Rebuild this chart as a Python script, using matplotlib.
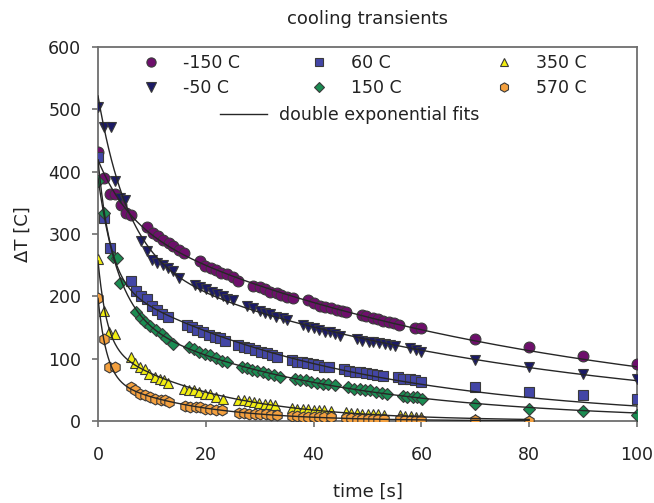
import numpy as np
import matplotlib
matplotlib.use("Agg")
import matplotlib.pyplot as plt
from matplotlib.lines import Line2D

# ---------------- data ----------------
labels = ["-150 C", "-50 C", "60 C", "150 C", "350 C", "570 C"]

t_m150 = [0, 1.2, 2.3, 3.2, 4.3, 5.2, 6.1,
          9.0, 10.2, 11.2, 12.1, 13.2, 14.0, 15.1, 16.0,
          18.9, 19.9, 20.9, 21.9, 22.9, 24.0, 25.0, 26.0,
          28.8, 30.0, 31.0, 32.0, 33.2, 34.0, 35.1, 36.1,
          39.0, 40.0, 41.2, 42.1, 43.2, 44.3, 45.2, 46.0,
          48.9, 49.8, 51.0, 51.9, 52.9, 53.9, 55.0, 55.9,
          58.8, 60.0, 70, 80, 90, 100]
y_m150 = [432, 390, 364, 364, 347, 333, 330,
          312, 301, 296, 290, 285, 280, 275, 269,
          256, 249, 245, 242, 238, 236, 231, 225,
          217, 215, 211, 207, 205, 202, 199, 198,
          194, 189, 185, 183, 181, 178, 177, 175,
          170, 168, 166, 163, 161, 159, 157, 154,
          150, 150, 131, 118, 104, 91]

t_m50 = [0, 1.2, 2.5, 3.1, 4.1, 5.1,
         8.0, 9.0, 10.1, 11.0, 12.0, 13.0, 14.0, 15.1,
         18.0, 18.9, 20.0, 21.1, 22.1, 23.1, 24.0, 25.1,
         27.7, 28.8, 30.0, 31.0, 32.0, 33.1, 34.3, 35.0,
         38.1, 39.0, 40.0, 41.0, 42.1, 43.0, 44.0, 44.9,
         48.0, 49.0, 50.2, 51.0, 52.2, 53.2, 54.2, 55.1,
         57.9, 59.0, 60.0, 70, 80, 90, 100]
y_m50 = [503, 472, 472, 385, 357, 355,
         288, 273, 259, 254, 250, 245, 240, 230,
         218, 215, 211, 207, 204, 200, 196, 194,
         185, 181, 177, 174, 172, 167, 165, 162,
         154, 151, 149, 146, 143, 142, 140, 136,
         131, 129, 127, 126, 125, 124, 122, 121,
         117, 114, 111, 98, 86, 76, 68]

t_60 = [0, 1.2, 2.3,
        6.1, 7.1, 8.0, 9.0, 10.0, 11.0, 11.8, 13.0,
        16.5, 17.4, 18.3, 19.5, 20.6, 21.7, 22.6, 23.5,
        26.0, 27.0, 28.1, 29.1, 30.2, 31.3, 32.2, 33.2,
        36.0, 36.9, 37.8, 38.8, 39.8, 40.9, 41.9, 42.9,
        45.6, 46.6, 47.7, 48.7, 49.8, 50.8, 51.8, 52.9,
        55.7, 56.6, 57.8, 58.8, 60.0, 70, 80, 90, 100]
y_60 = [424, 326, 277,
        224, 209, 200, 195, 185, 178, 172, 167,
        154, 151, 146, 143, 138, 134, 133, 129,
        122, 119, 117, 114, 111, 109, 106, 103,
        98, 95, 94, 93, 91, 90, 87, 86,
        83, 81, 79, 78, 77, 75, 74, 72,
        70, 67, 67, 66, 63, 55, 47, 41, 35]

t_150 = [0, 1.2, 2.7, 3.5, 4.1,
         7.1, 7.9, 8.7, 9.6, 10.8, 11.8, 12.6, 14.0,
         16.8, 17.8, 18.8, 19.8, 20.8, 21.9, 23.0, 23.9,
         26.7, 27.6, 28.6, 29.5, 30.6, 31.5, 32.6, 33.8,
         36.5, 37.5, 38.6, 39.6, 40.7, 41.7, 42.7, 44.0,
         46.4, 47.5, 48.6, 49.5, 50.5, 51.6, 52.6, 53.7,
         56.5, 57.4, 58.4, 59.2, 60.2, 70, 80, 90, 100]
y_150 = [385, 333, 263, 261, 221,
         175, 165, 159, 152, 146, 140, 133, 124,
         118, 115, 111, 108, 106, 101, 97, 95,
         87, 85, 82, 81, 78, 75, 74, 70,
         67, 66, 65, 63, 61, 60, 59, 58,
         54, 52, 51, 50, 49, 47, 45, 44,
         40, 39, 39, 38, 36, 27, 20, 16, 10]

t_350 = [0, 1.1, 2.1, 3.2,
         6.2, 6.9, 7.8, 8.7, 9.5, 10.6, 11.5, 12.2, 13.0,
         15.9, 16.8, 17.8, 18.8, 19.8, 20.8, 21.9, 23.1,
         26.0, 27.0, 28.0, 28.9, 29.8, 30.9, 32.0, 32.9,
         36.0, 37.0, 38.0, 39.0, 40.0, 41.0, 42.0, 43.2,
         46.0, 47.0, 48.0, 49.0, 50.0, 51.0, 52.0, 53.0,
         56.0, 57.0, 58.0, 59.0, 60.0, 70, 80]
y_350 = [260, 176, 142, 139,
         102, 93, 86, 84, 75, 71, 68, 66, 61,
         52, 50, 49, 47, 44, 43, 39, 35,
         34, 33, 32, 31, 29, 28, 27, 26,
         21, 20, 20, 19, 18, 18, 17, 16,
         14, 13, 13, 12, 12, 11, 11, 10,
         9, 8, 8, 7, 7, 4, 2]

t_570 = [0, 1.1, 2.0, 3.1,
         6.2, 6.9, 7.8, 8.8, 9.7, 10.6, 11.6, 12.4, 13.2,
         16.2, 17.1, 18.1, 19.0, 19.9, 20.8, 21.8, 23.0,
         26.1, 27.1, 28.1, 29.1, 30.0, 31.1, 32.1, 33.2,
         36.0, 37.0, 38.0, 39.0, 40.0, 41.0, 42.0, 43.3,
         46.0, 47.0, 48.0, 49.0, 50.0, 51.0, 52.0, 53.0,
         56.0, 57.0, 58.0, 59.0, 60.0, 70, 80]
y_570 = [198, 131, 87, 87,
         54, 49, 44, 42, 39, 35, 34, 33, 31,
         24, 23, 22, 22, 20, 19, 18, 17,
         13, 13, 12, 12, 11, 11, 10, 10,
         8, 8, 7, 7, 7, 6, 6, 6,
         5, 5, 4, 4, 4, 4, 3, 3,
         3, 2, 2, 2, 2, 1, 0]

times = [t_m150, t_m50, t_60, t_150, t_350, t_570]
values = [y_m150, y_m50, y_60, y_150, y_350, y_570]

# ---------------- styles ----------------
colors = ["#6E0F6C", "#1B1A66", "#4346A6", "#1A8C52", "#F2EE10", "#F4A03E"]
markers = ["o", "v", "s", "D", "^", "h"]
msizes = [7.8, 7.8, 7.0, 6.5, 7.4, 7.8]
edge = "#3a3a3a"
fs = 12.5


def double_exp_fit(t, y):
    """Least-squares double exponential fit (grid over time constants)."""
    t = np.asarray(t, float)
    y = np.asarray(y, float)
    best = None
    for tau1 in np.logspace(np.log10(0.2), np.log10(30), 90):
        for tau2 in np.logspace(np.log10(2), np.log10(2000), 90):
            if tau2 <= tau1 * 1.2:
                continue
            A = np.column_stack([np.exp(-t / tau1), np.exp(-t / tau2)])
            coef, *_ = np.linalg.lstsq(A, y, rcond=None)
            sse = np.sum((A @ coef - y) ** 2)
            if best is None or sse < best[0]:
                best = (sse, tau1, tau2, coef)
    _, tau1, tau2, coef = best
    return lambda tt: coef[0] * np.exp(-tt / tau1) + coef[1] * np.exp(-tt / tau2)


fig = plt.figure(figsize=(6.54, 5.03), dpi=100)
L, R, T, B = 98, 637, 47, 421
W, H = 654, 503
ax = fig.add_axes([L / W, 1 - B / H, (R - L) / W, (B - T) / H])

handles = []
for t, y, c, m, ms, lab in zip(times, values, colors, markers, msizes, labels):
    h, = ax.plot(t, y, linestyle="none", marker=m, markersize=ms,
                 markerfacecolor=c, markeredgecolor=edge, markeredgewidth=0.8,
                 label=lab, zorder=3)
    handles.append(h)

for t, y in zip(times, values):
    f = double_exp_fit(t, y)
    tt = np.linspace(0, max(t), 600)
    ax.plot(tt, f(tt), color="#262626", lw=1.0, zorder=4)

ax.set_xlim(0, 100)
ax.set_ylim(0, 600)
ax.set_xticks([0, 20, 40, 60, 80, 100])
ax.set_yticks([0, 100, 200, 300, 400, 500, 600])
for s in ax.spines.values():
    s.set_color("#6e6e6e")
    s.set_linewidth(1.3)
ax.tick_params(direction="out", length=4, width=1.2, color="#6e6e6e",
               labelsize=fs, labelcolor="#222222")
ax.tick_params(axis="x", pad=14)
ax.tick_params(axis="y", pad=8)

ax.set_xlabel("time [s]", fontsize=13, color="#222222")
ax.xaxis.set_label_coords(0.5, -(492 - B) / (B - T))
ax.xaxis.label.set_va("center")
ax.set_ylabel("ΔT [C]", fontsize=13, color="#222222")
ax.yaxis.set_label_coords(-(L - 23) / (R - L), 0.5)
ax.yaxis.label.set_va("center")

fig.text((L + R) / 2 / W, 1 - 19 / H, "cooling transients", fontsize=13,
         ha="center", va="center", color="#222222")

# legends: three marker columns and one line entry
def ax_x(px):
    return (px - L) / (R - L)

def ax_y(py):
    return (B - py) / (B - T)

col_x = [152 - 18, 320 - 18, 505 - 18]
for i in range(3):
    leg = ax.legend(handles=handles[2 * i:2 * i + 2], loc="upper left",
                    bbox_to_anchor=(ax_x(col_x[i]), ax_y(54)),
                    frameon=False, fontsize=fs, borderpad=0, borderaxespad=0,
                    handlelength=2.0, handletextpad=0.85, labelspacing=0.42,
                    markerscale=0.85)
    for txt in leg.get_texts():
        txt.set_color("#222222")
    ax.add_artist(leg)

line_handle = Line2D([], [], color="#262626", lw=1.0)
leg2 = ax.legend(handles=[line_handle], labels=["double exponential fits"],
                 loc="upper left", bbox_to_anchor=(ax_x(220), ax_y(106)),
                 frameon=False, fontsize=fs, borderpad=0, borderaxespad=0,
                 handlelength=2.7, handletextpad=0.7)
for txt in leg2.get_texts():
    txt.set_color("#222222")

fig.savefig("out.png", dpi=100)
